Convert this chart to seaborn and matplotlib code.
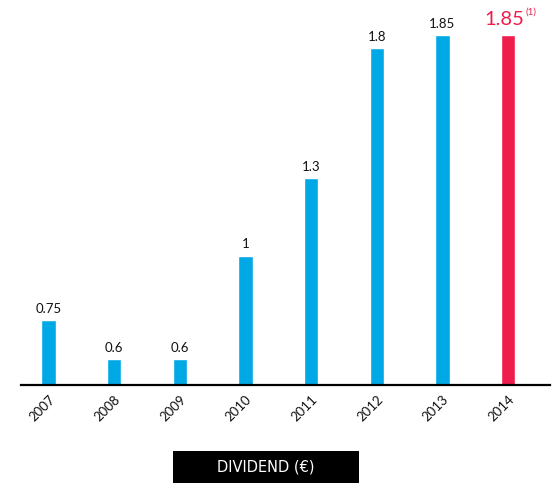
import numpy as np
import pandas as pd
import matplotlib
matplotlib.use("Agg")
import matplotlib.pyplot as plt
import seaborn as sns

# data
years = ["2007", "2008", "2009", "2010", "2011", "2012", "2013", "2014"]
dividend = [0.75, 0.6, 0.6, 1, 1.3, 1.8, 1.85, 1.85]
labels = ["0.75", "0.6", "0.6", "1", "1.3", "1.8", "1.85", "1.85"]

blue = "#00a9e6"
red = "#ee1d4b"
colors = [blue] * 7 + [red]

df = pd.DataFrame({"year": years, "dividend": dividend})

sns.set_style("white")
plt.rcParams["font.family"] = ["Lato", "DejaVu Sans"]

fig = plt.figure(figsize=(5.57, 4.83), dpi=100)
ax = fig.add_axes([21 / 557, 98 / 483, 529 / 557, 385 / 483])

sns.barplot(data=df, x="year", y="dividend", hue="year", palette=colors,
            width=0.22, legend=False, saturation=1, ax=ax)

ax.set_ylim(0.5, 0.5 + 385 / 259)
ax.set_xlim(-0.42, 7.64)

# value labels
for i, (v, lab) in enumerate(zip(dividend, labels)):
    if i == len(dividend) - 1:
        t = ax.text(i - 0.05, v + 0.03, lab, ha="center", va="bottom",
                    fontsize=14.5, color=red)
        # superscript note, attached to the right edge of the label
        ax.annotate("(1)", xy=(1, 0.62), xycoords=t, xytext=(0.3, 0),
                    textcoords="offset points", ha="left", va="bottom",
                    fontsize=7, color=red)
    else:
        ax.text(i, v + 0.02, lab, ha="center", va="bottom", fontsize=9.5, color="#111111")

# axes styling
for side in ["left", "right", "top"]:
    ax.spines[side].set_visible(False)
ax.spines["bottom"].set_linewidth(1.6)
ax.spines["bottom"].set_color("black")
ax.set_yticks([])
ax.set_xlabel("")
ax.set_ylabel("")
ax.tick_params(axis="x", length=0, pad=6)
plt.setp(ax.get_xticklabels(), rotation=45, ha="right", rotation_mode="anchor",
         fontsize=9.5, color="#111111")

# black caption box
box = plt.Rectangle((173 / 557, 0), 186 / 557, 32 / 483, transform=fig.transFigure,
                    facecolor="black", edgecolor="none", zorder=0)
fig.patches.append(box)
fig.text(266 / 557, 1 - 467 / 483, "DIVIDEND (€)", ha="center", va="center",
         fontsize=10.5, color="white", family="DejaVu Sans")

fig.savefig("out.png", dpi=100)
